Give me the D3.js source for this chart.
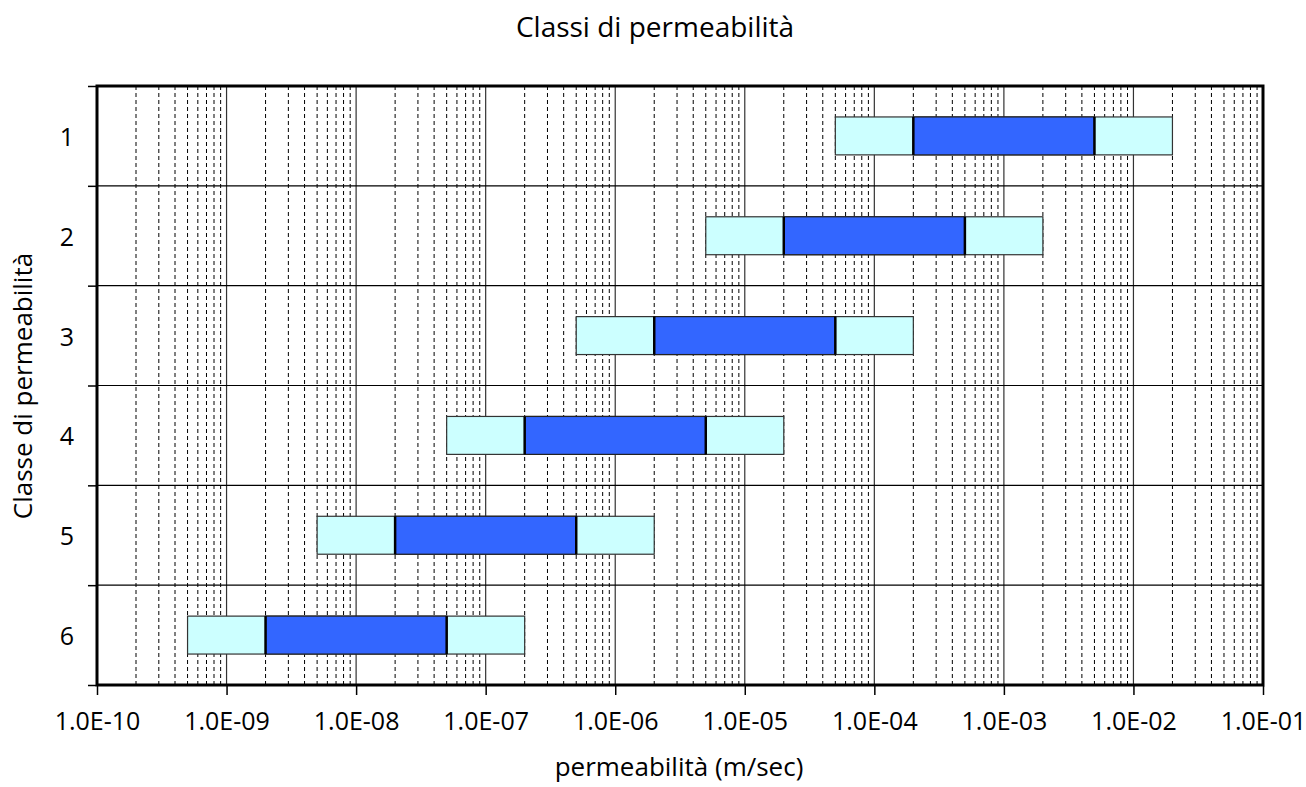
<!DOCTYPE html>
<html>
<head>
<meta charset="utf-8">
<script src="https://cdn.jsdelivr.net/npm/d3@7"></script>
<style>
  html, body { margin: 0; padding: 0; background: #fff; }
  svg { display: block; }
  text { font-family: "Open Sans", "DejaVu Sans", sans-serif; fill: #000; }
</style>
</head>
<body>
<svg id="chart" width="1306" height="787"></svg>
<script>
// ---- data ----
const classes = ["1", "2", "3", "4", "5", "6"];
const lightLow  = [5e-5, 5e-6, 5e-7, 5e-8, 5e-9, 5e-10];
const darkLow   = [2e-4, 2e-5, 2e-6, 2e-7, 2e-8, 2e-9];
const darkHigh  = [5e-3, 5e-4, 5e-5, 5e-6, 5e-7, 5e-8];
const lightHigh = [2e-2, 2e-3, 2e-4, 2e-5, 2e-6, 2e-7];
const xTickValues = [1e-10, 1e-9, 1e-8, 1e-7, 1e-6, 1e-5, 1e-4, 1e-3, 1e-2, 1e-1];
const xTickLabels = ["1.0E-10", "1.0E-09", "1.0E-08", "1.0E-07", "1.0E-06", "1.0E-05", "1.0E-04", "1.0E-03", "1.0E-02", "1.0E-01"];
const titleText = "Classi di permeabilità";
const xTitle = "permeabilità (m/sec)";
const yTitle = "Classe di permeabilità";

// ---- layout ----
const L = 97, R = 1263, T = 86, B = 685;
const svg = d3.select("#chart");

const x = d3.scaleLog().domain([1e-10, 1e-1]).range([L, R]);
const yBand = d3.scaleBand().domain(classes).range([T, B]).padding(0);
const yLin = d3.scaleLinear().domain([0, classes.length]).range([T, B]);

// minor gridlines (dashed)
const minors = [];
for (let e = -10; e < -1; e++) for (let m = 2; m <= 9; m++) minors.push(m * Math.pow(10, e));
svg.append("g").selectAll("line").data(minors).join("line")
  .attr("x1", d => x(d)).attr("x2", d => x(d))
  .attr("y1", T).attr("y2", B)
  .attr("stroke", "#000").attr("stroke-width", 1)
  .attr("stroke-dasharray", "4,3");

// major gridlines (solid)
svg.append("g").selectAll("line").data(xTickValues.slice(1, -1)).join("line")
  .attr("x1", d => x(d)).attr("x2", d => x(d))
  .attr("y1", T).attr("y2", B)
  .attr("stroke", "#333").attr("stroke-width", 1.2);

// horizontal row lines
svg.append("g").selectAll("line").data(d3.range(1, classes.length)).join("line")
  .attr("x1", L).attr("x2", R)
  .attr("y1", d => yLin(d)).attr("y2", d => yLin(d))
  .attr("stroke", "#000").attr("stroke-width", 1.2);

// bars
const barH = yBand.bandwidth() * 0.38;
const rows = classes.map((c, i) => ({ c, ll: lightLow[i], dl: darkLow[i], dh: darkHigh[i], lh: lightHigh[i] }));
const g = svg.append("g");
g.selectAll("rect.light").data(rows).join("rect").attr("class", "light")
  .attr("x", d => x(d.ll)).attr("width", d => x(d.lh) - x(d.ll))
  .attr("y", d => yBand(d.c) + (yBand.bandwidth() - barH) / 2).attr("height", barH)
  .attr("fill", "#CCFFFF").attr("stroke", "#333").attr("stroke-width", 1.2);
g.selectAll("rect.dark").data(rows).join("rect").attr("class", "dark")
  .attr("x", d => x(d.dl)).attr("width", d => x(d.dh) - x(d.dl))
  .attr("y", d => yBand(d.c) + (yBand.bandwidth() - barH) / 2).attr("height", barH)
  .attr("fill", "#3366FF").attr("stroke", "#222").attr("stroke-width", 1.2);
["dl", "dh"].forEach(k => {
  g.selectAll("line.edge-" + k).data(rows).join("line").attr("class", "edge-" + k)
    .attr("x1", d => x(d[k])).attr("x2", d => x(d[k]))
    .attr("y1", d => yBand(d.c) + (yBand.bandwidth() - barH) / 2)
    .attr("y2", d => yBand(d.c) + (yBand.bandwidth() + barH) / 2)
    .attr("stroke", "#000").attr("stroke-width", 2.5);
});

// border
svg.append("rect").attr("x", L).attr("y", T).attr("width", R - L).attr("height", B - T)
  .attr("fill", "none").attr("stroke", "#000").attr("stroke-width", 3);

// x axis
const xAxis = d3.axisBottom(x).tickValues(xTickValues)
  .tickFormat((d, i) => xTickLabels[i]).tickSize(9).tickPadding(17);
const gx = svg.append("g").attr("transform", `translate(0,${B + 1})`).call(xAxis);
gx.select(".domain").remove();
gx.selectAll("line").attr("stroke", "#000").attr("stroke-width", 1.5);
gx.selectAll("text").style("font-size", "25px").style("font-family", "'Open Sans', sans-serif").attr("fill", "#000");

// y axis tick marks at row boundaries
const yAxis = d3.axisLeft(yLin).tickValues(d3.range(0, classes.length + 1)).tickFormat("").tickSize(8);
const gy = svg.append("g").attr("transform", `translate(${L - 1},0)`).call(yAxis);
gy.select(".domain").remove();
gy.selectAll("line").attr("stroke", "#000").attr("stroke-width", 1.5);

// row labels
svg.append("g").selectAll("text").data(classes).join("text")
  .attr("x", 67).attr("y", d => yBand(d) + yBand.bandwidth() / 2)
  .attr("text-anchor", "middle").attr("dominant-baseline", "central")
  .style("font-size", "25px").text(d => d);

// titles
svg.append("text").attr("x", 655).attr("y", 37).attr("text-anchor", "middle")
  .style("font-size", "28px").text(titleText);
svg.append("text").attr("x", 679).attr("y", 776).attr("text-anchor", "middle")
  .style("font-size", "26px").text(xTitle);
svg.append("text").attr("transform", "translate(32,386) rotate(-90)").attr("text-anchor", "middle")
  .style("font-size", "26px").text(yTitle);
</script>
</body>
</html>
